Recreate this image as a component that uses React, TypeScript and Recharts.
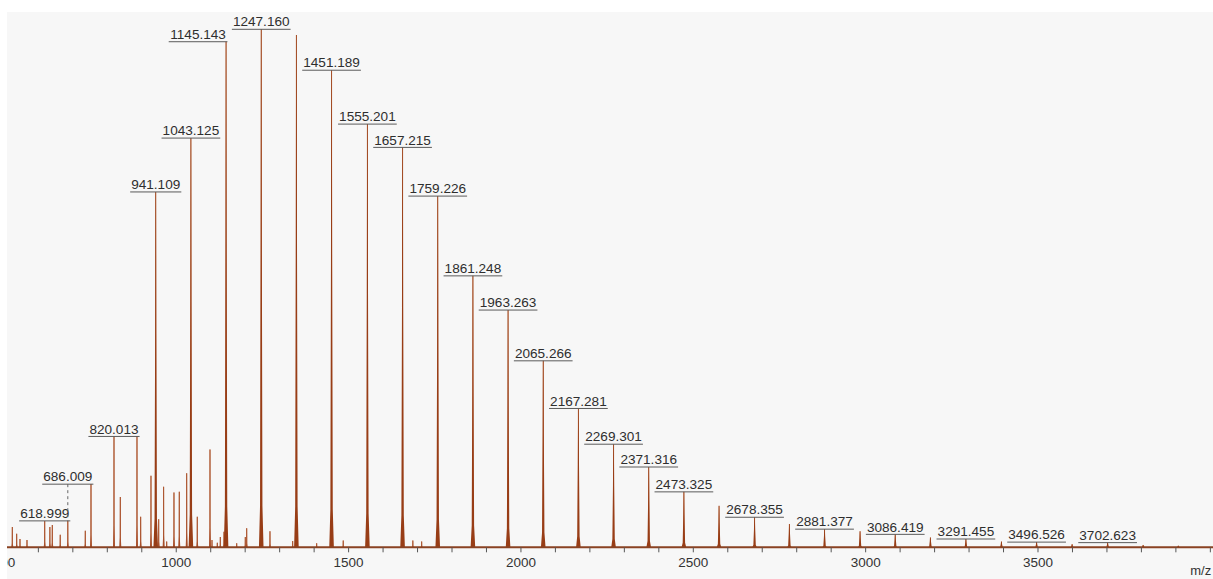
import { ComposedChart, Bar, XAxis, YAxis, LabelList } from "recharts"

// main oligomer series, spaced ~102 m/z (relative intensity, %)
const seriesMz = [
  941.109, 1043.125, 1145.143, 1247.16, 1349.17, 1451.189, 1555.201, 1657.215,
  1759.226, 1861.248, 1963.263, 2065.266, 2167.281, 2269.301, 2371.316, 2473.325,
  2575.34, 2678.355, 2779.37, 2881.377, 2984.4, 3086.419, 3188.44, 3291.455,
  3394.49, 3496.526, 3599.57, 3702.623, 3805.6, 3907.7,
]
const seriesIntensity = [
  68.6, 79.0, 97.6, 100, 98.9, 92.1, 81.7, 77.2,
  67.8, 52.4, 45.8, 36.0, 26.8, 19.9, 15.5, 10.7,
  8.0, 5.8, 4.5, 3.5, 3.1, 2.5, 1.9, 1.6,
  1.1, 1.0, 0.6, 0.9, 0.45, 0.3,
]

// low-mass fragments and side peaks
const minorMz = [
  525, 537.7, 547.3, 567.6, 618.999, 634, 641, 664, 686.009, 736.7, 753.3,
  820.013, 838.3, 886.7, 897.4, 927.3, 949.7, 964, 972.9, 994, 1009.4, 1030.9,
  1061.6, 1098.5, 1104.3, 1119.7, 1128.4, 1139.1, 1176, 1200.9, 1205, 1272.5,
  1338.4, 1408, 1485, 1687, 1712.6,
]
const minorIntensity = [
  3.9, 2.6, 1.6, 1.4, 5.1, 3.9, 4.3, 2.4, 5.1, 3.2, 12.2,
  21.4, 9.7, 21.5, 5.9, 13.8, 5.4, 11.7, 1.1, 10.6, 10.7, 14.3,
  5.9, 18.9, 1.4, 0.9, 2.0, 3.0, 0.8, 2.0, 3.7, 3.1,
  1.2, 0.8, 1.3, 1.3, 1.1,
]

const annotatedMz = [
  618.999, 686.009, 820.013, 941.109, 1043.125, 1145.143, 1247.16, 1451.189,
  1555.201, 1657.215, 1759.226, 1861.248, 1963.263, 2065.266, 2167.281,
  2269.301, 2371.316, 2473.325, 2678.355, 2881.377, 3086.419, 3291.455,
  3496.526, 3702.623,
]

const axisTicks = [
  500, 600, 700, 800, 900, 1000, 1100, 1200, 1300, 1400, 1500, 1600, 1700,
  1800, 1900, 2000, 2100, 2200, 2300, 2400, 2500, 2600, 2700, 2800, 2900,
  3000, 3100, 3200, 3300, 3400, 3500, 3600, 3700, 3800, 3900, 4000,
]
const axisLabels = [500, 1000, 1500, 2000, 2500, 3000, 3500]

// labels moved to avoid overlapping neighbours
const labelNudge: Record<string, { dx?: number; dy?: number }> = {
  "1145.143": { dx: -28 },
  "686.009": { dy: -36.7 },
}

const tagFor = (mz: number) =>
  annotatedMz.includes(mz) ? mz.toFixed(3) : undefined

const peaks = [
  ...seriesMz.map((mz, i) => ({ mz, intensity: seriesIntensity[i], kind: "series", tag: tagFor(mz) })),
  ...minorMz.map((mz, i) => ({ mz, intensity: minorIntensity[i], kind: "minor", tag: tagFor(mz) })),
].sort((a, b) => a.mz - b.mz)

const FONT = 13.6

const PeakShape = (props: any) => {
  const { x, y, width, height, payload } = props
  if (!height || height <= 0) return null
  const cx = x + width / 2
  const base = y + height
  const h = height
  if (payload.kind === "series") {
    const d = `M${cx - 2.3},${base} L${cx - 1.2},${base - h * 0.08} L${cx - 0.6},${base - h * 0.6} L${cx - 0.3},${y} L${cx + 0.3},${y} L${cx + 0.6},${base - h * 0.6} L${cx + 1.2},${base - h * 0.08} L${cx + 2.3},${base} Z`
    return (
      <g>
        <line x1={cx} x2={cx} y1={y} y2={base} stroke="#b9693f" strokeWidth={1} />
        <path d={d} fill="#983d16" />
      </g>
    )
  }
  const d = `M${cx - 1},${base} L${cx - 0.5},${base - h * 0.2} L${cx - 0.4},${y} L${cx + 0.4},${y} L${cx + 0.5},${base - h * 0.2} L${cx + 1},${base} Z`
  return (
    <g>
      <line x1={cx} x2={cx} y1={y} y2={base} stroke="#bb7048" strokeWidth={1.1} />
      <path d={d} fill="#a84e2a" />
    </g>
  )
}

const PeakLabel = (props: any) => {
  const value = props.value
  if (value === undefined || value === null || value === "") return null
  const vb = props.viewBox ?? props
  const bx = Number(props.x ?? vb.x)
  const by = Number(props.y ?? vb.y)
  const bw = Number(props.width ?? vb.width)
  const peakX = bx + bw / 2
  const nudge = labelNudge[String(value)] ?? {}
  const cx = peakX + (nudge.dx ?? 0)
  const top = by + (nudge.dy ?? 0)
  const text = String(value)
  let em = 0
  for (const ch of text) em += ch === "." ? 0.278 : 0.556
  const tw = em * FONT
  return (
    <g>
      {nudge.dy ? (
        <line x1={peakX} x2={peakX} y1={top} y2={by} stroke="#666" strokeDasharray="3 3" />
      ) : null}
      <line x1={cx - tw / 2 - 1} x2={cx + tw / 2 + 1} y1={top} y2={top} stroke="#5a5a5a" strokeWidth={1} />
      <text x={cx} y={top - 2.8} textAnchor="middle" fontSize={FONT} fill="#2e2e2e">
        {text}
      </text>
    </g>
  )
}

const AxisUnit = (props: any) => {
  const vb = props.viewBox ?? {}
  return (
    <text x={vb.x + vb.width - 2.6} y={vb.y + 27.7} textAnchor="end" fontSize={13} fill="#333">
      m/z
    </text>
  )
}

export default function App() {
  return (
    <div
      style={{
        position: "absolute",
        left: 0,
        top: 0,
        width: 1213,
        height: 579,
        background: "#ffffff",
        fontFamily: '"Liberation Sans", Arial, sans-serif',
      }}
    >
      <div
        style={{
          position: "absolute",
          left: 7,
          top: 12,
          width: 1206,
          height: 567,
          background: "#f7f7f7",
          overflow: "hidden",
        }}
      >
        <div style={{ position: "absolute", left: -10.19, top: 0 }}>
          <ComposedChart
            width={1216.8}
            height={567}
            data={peaks}
            margin={{ top: 17.3, right: 0, left: 0, bottom: 1.7 }}
          >
            <XAxis
              dataKey="mz"
              type="number"
              domain={[480, 4010]}
              ticks={axisTicks}
              interval={0}
              height={30}
              tickSize={5}
              tickMargin={5}
              tickFormatter={(v: number) => (axisLabels.includes(v) ? String(v) : "")}
              tick={{ fontSize: 13.5, fill: "#333" }}
              tickLine={{ stroke: "#555" }}
              axisLine={{ stroke: "#8a4222", strokeWidth: 2 }}
              label={<AxisUnit />}
            />
            <YAxis type="number" domain={[0, 100]} hide />
            <Bar
              dataKey="intensity"
              barSize={1}
              shape={<PeakShape />}
              isAnimationActive={false}
            >
              <LabelList dataKey="tag" content={<PeakLabel />} />
            </Bar>
          </ComposedChart>
        </div>
      </div>
    </div>
  )
}
